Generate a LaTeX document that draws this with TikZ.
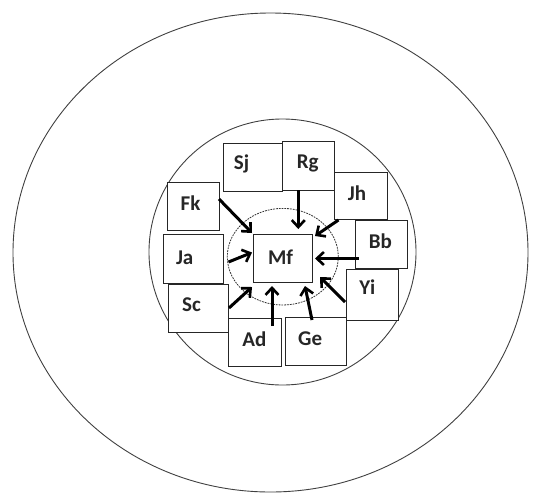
\documentclass[tikz,border=0pt]{standalone}
\usepackage{fontspec}
\setmainfont{Carlito}
\usetikzlibrary{arrows.meta}
\tikzset{
  ring/.style={draw=black!75, line width=0.9pt},
  inring/.style={draw=black!80, line width=0.8pt, dash pattern=on 1.8pt off 1pt},
  pbox/.style={draw=black!85, line width=0.9pt, fill=white, rectangle, inner sep=0pt, anchor=north west},
  lbl/.style={font=\bfseries\fontsize{21}{24}\selectfont, text=black!85, inner sep=0pt},
  flow/.style={line width=3pt, black, -{Straight Barb[length=7pt,width=13pt,line width=2.6pt]}}
}
\begin{document}
\begin{tikzpicture}[x=1pt,y=-1pt]
\useasboundingbox (0,0) rectangle (533,499);
% circles
\draw[ring] (270.5,252.5) ellipse [x radius=257.5, y radius=239.5];
\draw[ring] (282.5,252) ellipse [x radius=133.5, y radius=133];
\draw[inring] (282.8,256.7) ellipse [x radius=55.5, y radius=48.3];
% boxes
\node[pbox, minimum width=59pt, minimum height=48pt] (sj) at (223,143) {};
\node[pbox, minimum width=52pt, minimum height=49pt] (rg) at (282,141) {};
\node[pbox, minimum width=53pt, minimum height=47pt] (jh) at (334,172) {};
\node[pbox, minimum width=52pt, minimum height=48pt] (bb) at (355,220) {};
\node[pbox, minimum width=52pt, minimum height=51pt] (yi) at (346,269) {};
\node[pbox, minimum width=61pt, minimum height=48pt] (ge) at (285,317) {};
\node[pbox, minimum width=53pt, minimum height=48pt] (ad) at (228,318) {};
\node[pbox, minimum width=60pt, minimum height=48pt] (sc) at (168,284) {};
\node[pbox, minimum width=60pt, minimum height=49pt] (ja) at (163,234) {};
\node[pbox, minimum width=52pt, minimum height=48pt] (fk) at (167,182) {};
\node[pbox, minimum width=59pt, minimum height=48pt] (mf) at (253.3,234.3) {};
% labels
\node[lbl] (tsj) at (241.5,164) {Sj};
\node[lbl] (trg) at (307.8,163) {Rg};
\node[lbl] (tjh) at (357,193) {Jh};
\node[lbl] (tbb) at (380.3,241.7) {Bb};
\node[lbl] (tyi) at (367.3,286.7) {Yi};
\node[lbl] (tge) at (310.2,338.3) {Ge};
\node[lbl] (tad) at (254.4,339.3) {Ad};
\node[lbl] (tsc) at (191.5,305) {Sc};
\node[lbl] (tja) at (184.7,257.7) {Ja};
\node[lbl] (tfk) at (190.5,203) {Fk};
\node[lbl] (tmf) at (280.6,256.7) {Mf};
% arrow ends
\coordinate (sFk) at (219,199);   \coordinate (eFk) at (252,233);
\coordinate (sRg) at (298.3,190); \coordinate (eRg) at (298.3,229);
\coordinate (sJh) at (338.5,220); \coordinate (eJh) at (315,236);
\coordinate (sBb) at (359,258.5); \coordinate (eBb) at (315,258.5);
\coordinate (sYi) at (345,302);   \coordinate (eYi) at (320,277);
\coordinate (sGe) at (312,320);   \coordinate (eGe) at (305,286);
\coordinate (sAd) at (272,326);   \coordinate (eAd) at (272,286);
\coordinate (sSc) at (229,308);   \coordinate (eSc) at (252,287);
\coordinate (sJa) at (228.5,262); \coordinate (eJa) at (252,252.5);
% arrows
\draw[flow] (sFk) -- (eFk);
\draw[flow] (sRg) -- (eRg);
\draw[flow] (sJh) -- (eJh);
\draw[flow] (sBb) -- (eBb);
\draw[flow] (sYi) -- (eYi);
\draw[flow] (sGe) -- (eGe);
\draw[flow] (sAd) -- (eAd);
\draw[flow] (sSc) -- (eSc);
\draw[flow] (sJa) -- (eJa);
\end{tikzpicture}
\end{document}
